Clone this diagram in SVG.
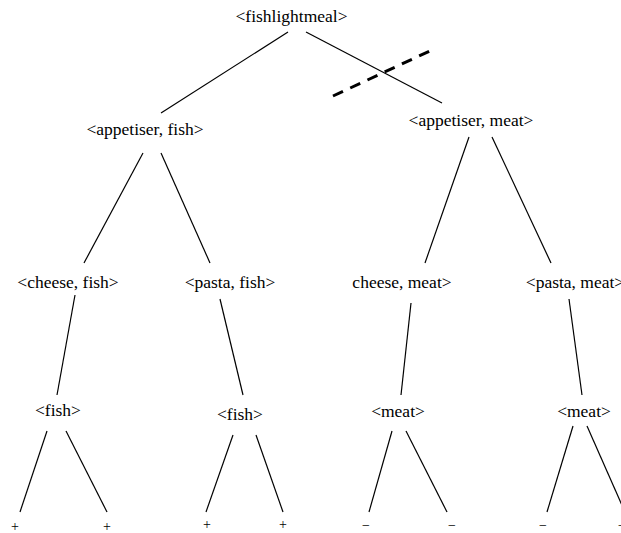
<svg xmlns="http://www.w3.org/2000/svg" width="621" height="533" viewBox="0 0 621 533">
  <style>
    .lbl { font-family: "Liberation Serif", "DejaVu Serif", "Times New Roman", serif; font-size: 17.5px; fill: #000; text-anchor: middle; }
    .leaf { font-family: "Liberation Serif", "DejaVu Serif", "Times New Roman", serif; font-size: 14px; fill: #000; text-anchor: middle; }
    .edge { stroke: #000; stroke-width: 1.2; fill: none; }
    .cut { stroke: #000; stroke-width: 3; stroke-dasharray: 11 8; fill: none; }
  </style>
  <rect width="621" height="533" fill="#fff"/>

  <!-- tree edges -->
  <g id="connectors">
    <line class="edge" x1="288" y1="32" x2="161" y2="113"/>
    <line class="edge" x1="306" y1="32" x2="442" y2="103"/>
    <line class="edge" x1="143" y1="153" x2="84" y2="263"/>
    <line class="edge" x1="161" y1="153" x2="210" y2="263"/>
    <line class="edge" x1="469" y1="137" x2="425" y2="263"/>
    <line class="edge" x1="492" y1="137" x2="551" y2="263"/>
    <line class="edge" x1="75" y1="295" x2="57" y2="395"/>
    <line class="edge" x1="220" y1="299" x2="243" y2="395"/>
    <line class="edge" x1="411" y1="303" x2="401" y2="395"/>
    <line class="edge" x1="569" y1="299" x2="582" y2="395"/>
    <line class="edge" x1="47" y1="431" x2="20" y2="512"/>
    <line class="edge" x1="66" y1="431" x2="107" y2="512"/>
    <line class="edge" x1="233" y1="435" x2="206" y2="512"/>
    <line class="edge" x1="256" y1="435" x2="283" y2="512"/>
    <line class="edge" x1="392" y1="431" x2="369" y2="512"/>
    <line class="edge" x1="406" y1="431" x2="447" y2="512"/>
    <line class="edge" x1="573" y1="426" x2="547" y2="512"/>
    <line class="edge" x1="587" y1="426" x2="625" y2="512"/>
    <!-- pruning cut -->
    <line class="cut" x1="333" y1="96" x2="432" y2="50"/>
  </g>

  <g id="n-root"><text class="lbl" x="291.5" y="22">&lt;fishlightmeal&gt;</text></g>
  <g id="n-app-fish"><text class="lbl" x="145" y="135">&lt;appetiser, fish&gt;</text></g>
  <g id="n-app-meat"><text class="lbl" x="471" y="126">&lt;appetiser, meat&gt;</text></g>
  <g id="n-cheese-fish"><text class="lbl" x="68" y="288">&lt;cheese, fish&gt;</text></g>
  <g id="n-pasta-fish"><text class="lbl" x="230" y="288">&lt;pasta, fish&gt;</text></g>
  <g id="n-cheese-meat"><text class="lbl" x="402" y="288">cheese, meat&gt;</text></g>
  <g id="n-pasta-meat"><text class="lbl" x="575" y="288">&lt;pasta, meat&gt;</text></g>
  <g id="n-fish-1"><text class="lbl" x="58" y="416">&lt;fish&gt;</text></g>
  <g id="n-fish-2"><text class="lbl" x="240" y="420">&lt;fish&gt;</text></g>
  <g id="n-meat-1"><text class="lbl" x="398" y="417">&lt;meat&gt;</text></g>
  <g id="n-meat-2"><text class="lbl" x="584" y="417">&lt;meat&gt;</text></g>

  <g id="n-leaf-1"><text class="leaf" x="15" y="531">+</text></g>
  <g id="n-leaf-2"><text class="leaf" x="107" y="531">+</text></g>
  <g id="n-leaf-3"><text class="leaf" x="207" y="529">+</text></g>
  <g id="n-leaf-4"><text class="leaf" x="283" y="529">+</text></g>
  <g id="n-leaf-5"><text class="leaf" x="366" y="530">−</text></g>
  <g id="n-leaf-6"><text class="leaf" x="452" y="530">−</text></g>
  <g id="n-leaf-7"><text class="leaf" x="543" y="530">−</text></g>
  <g id="n-leaf-8"><text class="leaf" x="622" y="530">−</text></g>
</svg>
